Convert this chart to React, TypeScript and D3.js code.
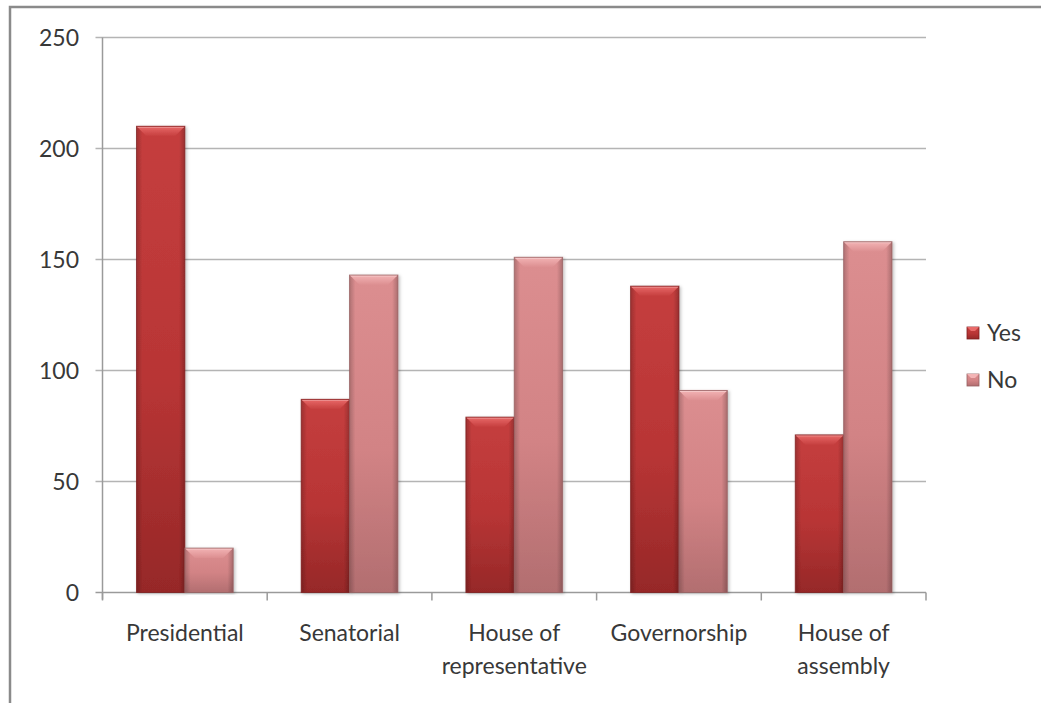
import React from "react";
import * as d3 from "d3";

const categories = [
  ["Presidential"],
  ["Senatorial"],
  ["House of", "representative"],
  ["Governorship"],
  ["House of", "assembly"],
];
const seriesNames = ["Yes", "No"];
const yesValues = [210, 87, 79, 138, 71];
const noValues = [20, 143, 151, 91, 158];
const yTicks = [0, 50, 100, 150, 200, 250];

const W = 1041;
const H = 703;
const plot = { left: 102.5, right: 926, top: 37.5, bottom: 592.5 };
const font = "Lato, 'Open Sans', sans-serif";
const fontSize = 23;
const textColor = "#383838";

const palette: Record<string, { top: string; mid: string; bot: string; cap: string; edge: string }> = {
  Yes: { top: "#c53e3e", mid: "#b83535", bot: "#962828", cap: "#e96a69", edge: "#7e1f20" },
  No: { top: "#dc8e90", mid: "#d28385", bot: "#b26e70", cap: "#f3b4b5", edge: "#966062" },
};

export default function App() {
  const keys = categories.map((c) => c.join(" "));
  const x = d3.scaleBand<string>().domain(keys).range([plot.left, plot.right]).padding(0);
  const cw = x.bandwidth();
  const gap = 34;
  const inner = d3.scaleBand<string>().domain(seriesNames).range([gap, cw - gap]).padding(0);
  const y = d3.scaleLinear().domain([0, 250]).range([plot.bottom, plot.top]);

  const rows = keys.map((k, i) => ({ key: k, Yes: yesValues[i], No: noValues[i] }));

  const bevel = 10;

  return (
    <svg width={W} height={H} style={{ position: "absolute", left: 0, top: 0, background: "#fff" }}>
      <defs>
        {seriesNames.map((s) => (
          <React.Fragment key={s}>
            <linearGradient id={`body-${s}`} x1="0" y1="0" x2="0" y2="1">
              <stop offset="0" stopColor={palette[s].top} />
              <stop offset="0.55" stopColor={palette[s].mid} />
              <stop offset="1" stopColor={palette[s].bot} />
            </linearGradient>
            <linearGradient id={`side-${s}`} x1="0" y1="0" x2="1" y2="0">
              <stop offset="0" stopColor="#000" stopOpacity="0.2" />
              <stop offset="0.12" stopColor="#000" stopOpacity="0" />
              <stop offset="0.88" stopColor="#000" stopOpacity="0" />
              <stop offset="1" stopColor="#000" stopOpacity="0.22" />
            </linearGradient>
            <linearGradient id={`cap-${s}`} x1="0" y1="0" x2="0" y2="1">
              <stop offset="0" stopColor={palette[s].cap} />
              <stop offset="1" stopColor={palette[s].top} />
            </linearGradient>
          </React.Fragment>
        ))}
        <filter id="shadow" x="-20%" y="-5%" width="140%" height="110%">
          <feDropShadow dx="1.5" dy="1" stdDeviation="1.5" floodColor="#000" floodOpacity="0.25" />
        </filter>
      </defs>

      {/* outer frame */}
      <path d={`M10,${H + 5} V7 H${W + 5}`} fill="none" stroke="#8a8a8a" strokeWidth={2.5} />

      {/* gridlines */}
      {yTicks.map((t) => (
        <line key={t} x1={plot.left - 7} x2={plot.right} y1={y(t)} y2={y(t)}
          stroke={t === 0 ? "#9a9a9a" : "#b4b4b4"} strokeWidth={1.6} />
      ))}
      {/* y axis */}
      <line x1={plot.left} x2={plot.left} y1={plot.top} y2={plot.bottom + 7} stroke="#9a9a9a" strokeWidth={1.5} />
      {yTicks.map((t) => (
        <text key={t} x={79} y={y(t)} dy="0.35em" textAnchor="end" fontFamily={font} fontSize={fontSize} fill={textColor}>
          {t}
        </text>
      ))}

      {/* x tick marks */}
      {[...keys.map((k) => x(k)!), plot.right].map((v, i) => (
        <line key={i} x1={v} x2={v} y1={plot.bottom} y2={plot.bottom + 8} stroke="#9a9a9a" strokeWidth={1.5} />
      ))}

      {/* bars */}
      {rows.map((r) => (
        <g key={r.key} transform={`translate(${x(r.key)},0)`}>
          {seriesNames.map((s) => {
            const v = (r as any)[s] as number;
            const bx = inner(s)!;
            const bw = inner.bandwidth();
            const top = y(v);
            const h = plot.bottom - top;
            const b = Math.min(bevel, h / 2);
            return (
              <g key={s} filter="url(#shadow)">
                <rect x={bx} y={top} width={bw} height={h} fill={`url(#body-${s})`} />
                <rect x={bx} y={top} width={bw} height={h} fill={`url(#side-${s})`} />
                <polygon
                  points={`${bx},${top} ${bx + bw},${top} ${bx + bw - b},${top + b} ${bx + b},${top + b}`}
                  fill={`url(#cap-${s})`}
                />
                <line x1={bx + 1} x2={bx + bw - 1} y1={top + 1} y2={top + 1} stroke="#fff" strokeOpacity={0.3} />
                <rect x={bx} y={top} width={bw} height={h} fill="none" stroke={palette[s].edge} strokeOpacity={0.75} strokeWidth={1} />
              </g>
            );
          })}
        </g>
      ))}

      {/* category labels */}
      {categories.map((lines, i) => (
        <text key={i} x={x(keys[i])! + cw / 2} y={633} textAnchor="middle" fontFamily={font} fontSize={fontSize} fill={textColor}>
          {lines.map((ln, j) => (
            <tspan key={j} x={x(keys[i])! + cw / 2} dy={j === 0 ? "0.35em" : 33}>
              {ln}
            </tspan>
          ))}
        </text>
      ))}

      {/* legend */}
      {seriesNames.map((s, i) => {
        const cy = 333 + i * 47;
        return (
          <g key={s}>
            <rect x={967} y={cy - 6} width={12} height={12} fill={`url(#body-${s})`} stroke={palette[s].edge} strokeWidth={0.8} />
            <polygon points={`${967},${cy - 6} ${979},${cy - 6} ${975},${cy - 2} ${971},${cy - 2}`} fill={palette[s].cap} />
            <text x={987} y={cy} dy="0.35em" fontFamily={font} fontSize={fontSize} fill={textColor}>
              {s}
            </text>
          </g>
        );
      })}
    </svg>
  );
}
